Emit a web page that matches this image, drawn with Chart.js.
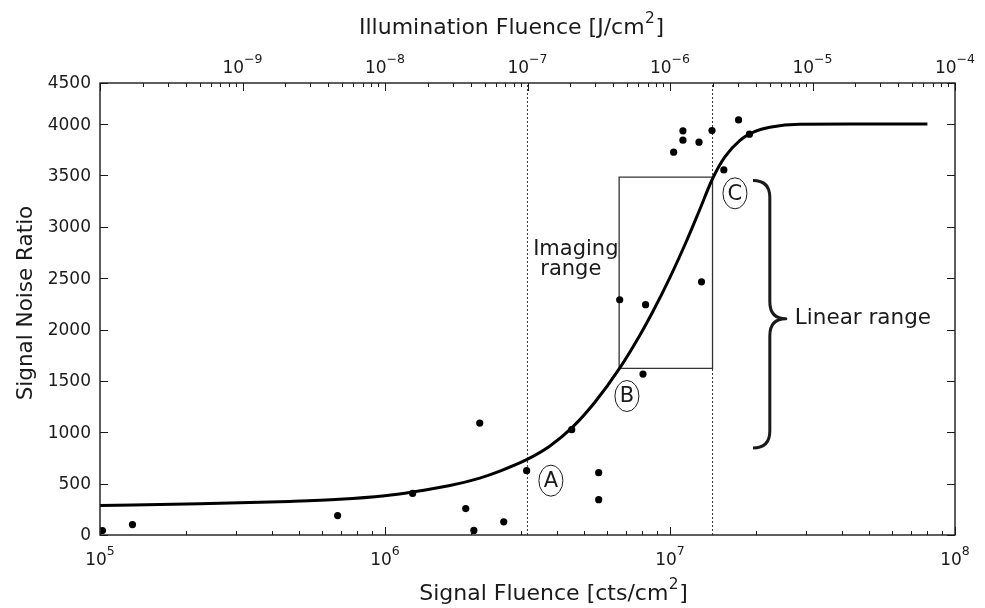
<!DOCTYPE html>
<html>
<head>
<meta charset="utf-8">
<script src="https://cdn.jsdelivr.net/npm/chart.js@4.4.1/dist/chart.umd.min.js"></script>
<style>
  html, body { margin: 0; padding: 0; background: #ffffff; }
  #wrap { width: 985px; height: 608px; }
</style>
</head>
<body>
<div id="wrap"><canvas id="snr" width="985" height="608"></canvas></div>
<script>
// Measured exposures: signal fluence (cts/cm^2) and signal-to-noise ratio
const measuredFluence = [1.02e5, 1.30e5, 6.82e5, 1.25e6, 1.92e6, 2.05e6, 2.15e6, 2.61e6,
  3.14e6, 4.52e6, 5.62e6, 5.62e6, 6.66e6, 8.04e6, 8.21e6, 1.03e7, 1.11e7, 1.11e7,
  1.264e7, 1.29e7, 1.404e7, 1.545e7, 1.74e7, 1.90e7];
const measuredSNR = [43, 101, 189, 405, 257, 45, 1090, 128,
  626, 1025, 607, 344, 2290, 1567, 2242, 3727, 3843, 3934,
  3824, 2465, 3937, 3554, 4041, 3902];

// Fitted response curve
const fitFluence = [1.0e5, 2.24e5, 4.63e5, 6.93e5, 9.98e5, 1.25e6, 1.69e6, 2.15e6, 2.53e6,
  3.14e6, 3.78e6, 4.56e6, 5.44e6, 6.66e6, 7.83e6, 8.70e6, 9.98e6, 1.145e7, 1.27e7,
  1.41e7, 1.556e7, 1.756e7, 1.98e7, 2.24e7, 2.85e7, 4.27e7, 8.0e7];
const fitSNR = [286, 303, 327, 348, 383, 419, 481, 554, 622,
  733, 864, 1053, 1290, 1625, 1943, 2173, 2503, 2867, 3164,
  3468, 3678, 3839, 3926, 3970, 3999, 4000, 4000];

// Range markers
const markerFluence = [3.16e6, 1.41e7];          // dotted verticals (1e-7 and 2e-6 J/cm^2)
const imagingBoxFluence = [6.63e6, 1.41e7];       // imaging range box, left/right
const imagingBoxSNR = [1622, 3483];               // imaging range box, bottom/top

// Axis ranges and tick labels
const xRange = [1e5, 1e8];
const topRange = [1e-10, 1e-4];
const yRange = [0, 4400];
const bottomTickExponents = [5, 6, 7, 8];
const topTickExponents = [-9, -8, -7, -6, -5, -4];
const yTickValues = [0, 500, 1000, 1500, 2000, 2500, 3000, 3500, 4000, 4400];
const yTickLabels = ['0', '500', '1000', '1500', '2000', '2500', '3000', '3500', '4000', '4500'];

// Annotations
const circledLabels = ['A', 'B', 'C'];
const circledFluence = [3.82e6, 7.06e6, 1.69e7];
const circledSNR = [529, 1353, 3326];
const braceFluence = [1.955e7, 2.24e7, 2.55e7];   // open end, spine, tip
const braceSNR = [3450, 2106, 847];               // top, tip, bottom

const FONT = '"DejaVu Sans", "Liberation Sans", sans-serif';
const INK = '#1a1a1a';

function pts(xs, ys) { return xs.map((x, i) => ({ x: x, y: ys[i] })); }
function vline(x) { return [{ x: x, y: yRange[0] }, { x: x, y: yRange[1] }]; }

function logTicks(lo, hi) {
  const out = [];
  const e0 = Math.round(Math.log10(lo)), e1 = Math.round(Math.log10(hi));
  for (let e = e0; e < e1; e++) {
    for (let k = 1; k < 10; k++) out.push({ v: k * Math.pow(10, e), major: k === 1 });
  }
  out.push({ v: Math.pow(10, e1), major: true });
  return out;
}

// "10" with a raised exponent, centred on cx
function drawPower(ctx, exp, cx, baseline) {
  const expText = exp < 0 ? '\u2212' + Math.abs(exp) : String(exp);
  ctx.font = '17px ' + FONT;
  const wBase = ctx.measureText('10').width;
  ctx.font = '12.5px ' + FONT;
  const wExp = ctx.measureText(expText).width;
  const left = cx - (wBase + wExp) / 2;
  ctx.textAlign = 'left';
  ctx.textBaseline = 'alphabetic';
  ctx.font = '17px ' + FONT;
  ctx.fillText('10', left, baseline);
  ctx.font = '12.5px ' + FONT;
  ctx.fillText(expText, left + wBase, baseline - 10.5);
}

// Title with a superscript part: [before, sup, after]
function drawSupTitle(ctx, parts, cx, baseline, size) {
  const supSize = size * 0.7;
  ctx.font = size + 'px ' + FONT;
  const w0 = ctx.measureText(parts[0]).width;
  const w2 = ctx.measureText(parts[2]).width;
  ctx.font = supSize + 'px ' + FONT;
  const w1 = ctx.measureText(parts[1]).width;
  let x = cx - (w0 + w1 + w2) / 2;
  ctx.textAlign = 'left';
  ctx.textBaseline = 'alphabetic';
  ctx.font = size + 'px ' + FONT;
  ctx.fillText(parts[0], x, baseline);
  x += w0;
  ctx.font = supSize + 'px ' + FONT;
  ctx.fillText(parts[1], x + 0.5, baseline - size * 0.52);
  x += w1 + 1;
  ctx.font = size + 'px ' + FONT;
  ctx.fillText(parts[2], x, baseline);
}

const framePlugin = {
  id: 'framePlugin',
  afterDraw(chart) {
    const ctx = chart.ctx;
    const a = chart.chartArea;
    const xs = chart.scales.x, ts = chart.scales.xTop, ys = chart.scales.y;
    ctx.save();

    // frame
    ctx.strokeStyle = INK;
    ctx.lineWidth = 1.4;
    ctx.strokeRect(a.left, a.top, a.right - a.left, a.bottom - a.top);

    // inward ticks
    ctx.lineWidth = 1;
    ctx.beginPath();
    logTicks(xRange[0], xRange[1]).forEach(t => {
      const px = Math.round(xs.getPixelForValue(t.v)) + 0.5;
      const len = t.major ? 8 : 4;
      ctx.moveTo(px, a.bottom); ctx.lineTo(px, a.bottom - len);
    });
    logTicks(topRange[0], topRange[1]).forEach(t => {
      const px = Math.round(ts.getPixelForValue(t.v)) + 0.5;
      const len = t.major ? 8 : 4;
      ctx.moveTo(px, a.top); ctx.lineTo(px, a.top + len);
    });
    yTickValues.forEach(v => {
      const py = Math.round(ys.getPixelForValue(v)) + 0.5;
      ctx.moveTo(a.left, py); ctx.lineTo(a.left + 8, py);
      ctx.moveTo(a.right, py); ctx.lineTo(a.right - 8, py);
    });
    ctx.stroke();

    // tick labels
    ctx.fillStyle = INK;
    bottomTickExponents.forEach(e => drawPower(ctx, e, xs.getPixelForValue(Math.pow(10, e)), a.bottom + 30));
    topTickExponents.forEach(e => drawPower(ctx, e, ts.getPixelForValue(Math.pow(10, e)), a.top - 10));
    ctx.font = '17px ' + FONT;
    ctx.textAlign = 'right';
    ctx.textBaseline = 'middle';
    yTickValues.forEach((v, i) => ctx.fillText(yTickLabels[i], a.left - 9, ys.getPixelForValue(v) + 1));

    // axis titles
    drawSupTitle(ctx, ['Signal Fluence [cts/cm', '2', ']'], 553, 600, 22);
    drawSupTitle(ctx, ['Illumination Fluence [J/cm', '2', ']'], 511, 34, 22);
    ctx.save();
    ctx.translate(26, 303);
    ctx.rotate(-Math.PI / 2);
    ctx.font = '21.5px ' + FONT;
    ctx.textAlign = 'center';
    ctx.textBaseline = 'middle';
    ctx.fillText('Signal Noise Ratio', 0, 0);
    ctx.restore();

    // circled point labels
    circledLabels.forEach((lab, i) => {
      const cx = xs.getPixelForValue(circledFluence[i]);
      const cy = ys.getPixelForValue(circledSNR[i]);
      ctx.beginPath();
      ctx.ellipse(cx, cy, 12, 15.5, 0, 0, Math.PI * 2);
      ctx.lineWidth = 1;
      ctx.strokeStyle = INK;
      ctx.stroke();
      ctx.font = '21px ' + FONT;
      ctx.textAlign = 'center';
      ctx.textBaseline = 'middle';
      ctx.fillText(lab, cx, cy + 1);
    });

    // imaging range label
    const ix = xs.getPixelForValue(4.56e6);
    ctx.font = '21px ' + FONT;
    ctx.textAlign = 'center';
    ctx.textBaseline = 'alphabetic';
    ctx.fillText('Imaging', ix + 3, ys.getPixelForValue(2797) + 7);
    ctx.fillText('range', ix - 2, ys.getPixelForValue(2564) + 3);

    // linear range brace
    const bx0 = xs.getPixelForValue(braceFluence[0]);
    const bx1 = xs.getPixelForValue(braceFluence[1]);
    const bx2 = xs.getPixelForValue(braceFluence[2]);
    const by0 = ys.getPixelForValue(braceSNR[0]);
    const by1 = ys.getPixelForValue(braceSNR[1]);
    const by2 = ys.getPixelForValue(braceSNR[2]);
    const r = 17;
    ctx.beginPath();
    ctx.moveTo(bx0, by0);
    ctx.quadraticCurveTo(bx1, by0, bx1, by0 + r);
    ctx.lineTo(bx1, by1 - r);
    ctx.quadraticCurveTo(bx1, by1, bx2, by1);
    ctx.quadraticCurveTo(bx1, by1, bx1, by1 + r);
    ctx.lineTo(bx1, by2 - r);
    ctx.quadraticCurveTo(bx1, by2, bx0, by2);
    ctx.lineWidth = 3;
    ctx.lineJoin = 'round';
    ctx.lineCap = 'butt';
    ctx.stroke();
    ctx.textAlign = 'left';
    ctx.textBaseline = 'middle';
    ctx.font = '21.5px ' + FONT;
    ctx.fillText('Linear range', bx2 + 9, by1);

    ctx.restore();
  }
};

new Chart(document.getElementById('snr'), {
  type: 'scatter',
  data: {
    datasets: [
      {
        label: 'Measured',
        data: pts(measuredFluence, measuredSNR),
        pointRadius: 3.6,
        pointBackgroundColor: '#000',
        pointBorderWidth: 0,
        showLine: false
      },
      {
        label: 'Fit',
        data: pts(fitFluence, fitSNR),
        showLine: true,
        pointRadius: 0,
        borderColor: '#000',
        borderWidth: 3,
        cubicInterpolationMode: 'monotone'
      },
      {
        label: 'Imaging range',
        data: pts(
          [imagingBoxFluence[0], imagingBoxFluence[1], imagingBoxFluence[1], imagingBoxFluence[0], imagingBoxFluence[0]],
          [imagingBoxSNR[0], imagingBoxSNR[0], imagingBoxSNR[1], imagingBoxSNR[1], imagingBoxSNR[0]]),
        showLine: true,
        pointRadius: 0,
        borderColor: '#333',
        borderWidth: 1.3,
        tension: 0
      },
      {
        label: 'Lower bound',
        data: vline(markerFluence[0]),
        showLine: true,
        pointRadius: 0,
        borderColor: '#333',
        borderWidth: 1,
        borderDash: [2, 2]
      },
      {
        label: 'Upper bound',
        data: vline(markerFluence[1]),
        showLine: true,
        pointRadius: 0,
        borderColor: '#333',
        borderWidth: 1,
        borderDash: [2, 2]
      }
    ]
  },
  options: {
    responsive: false,
    devicePixelRatio: 1,
    animation: false,
    layout: { padding: { left: 100, right: 30, top: 83, bottom: 73 } },
    plugins: { legend: { display: false }, tooltip: { enabled: false } },
    scales: {
      x: {
        type: 'logarithmic', position: 'bottom', min: xRange[0], max: xRange[1],
        grid: { display: false, drawTicks: false }, border: { display: false },
        ticks: { display: false }
      },
      xTop: {
        type: 'logarithmic', position: 'top', min: topRange[0], max: topRange[1],
        grid: { display: false, drawTicks: false }, border: { display: false },
        ticks: { display: false }
      },
      y: {
        type: 'linear', min: yRange[0], max: yRange[1],
        grid: { display: false, drawTicks: false }, border: { display: false },
        ticks: { display: false }
      }
    }
  },
  plugins: [framePlugin]
});
</script>
</body>
</html>
